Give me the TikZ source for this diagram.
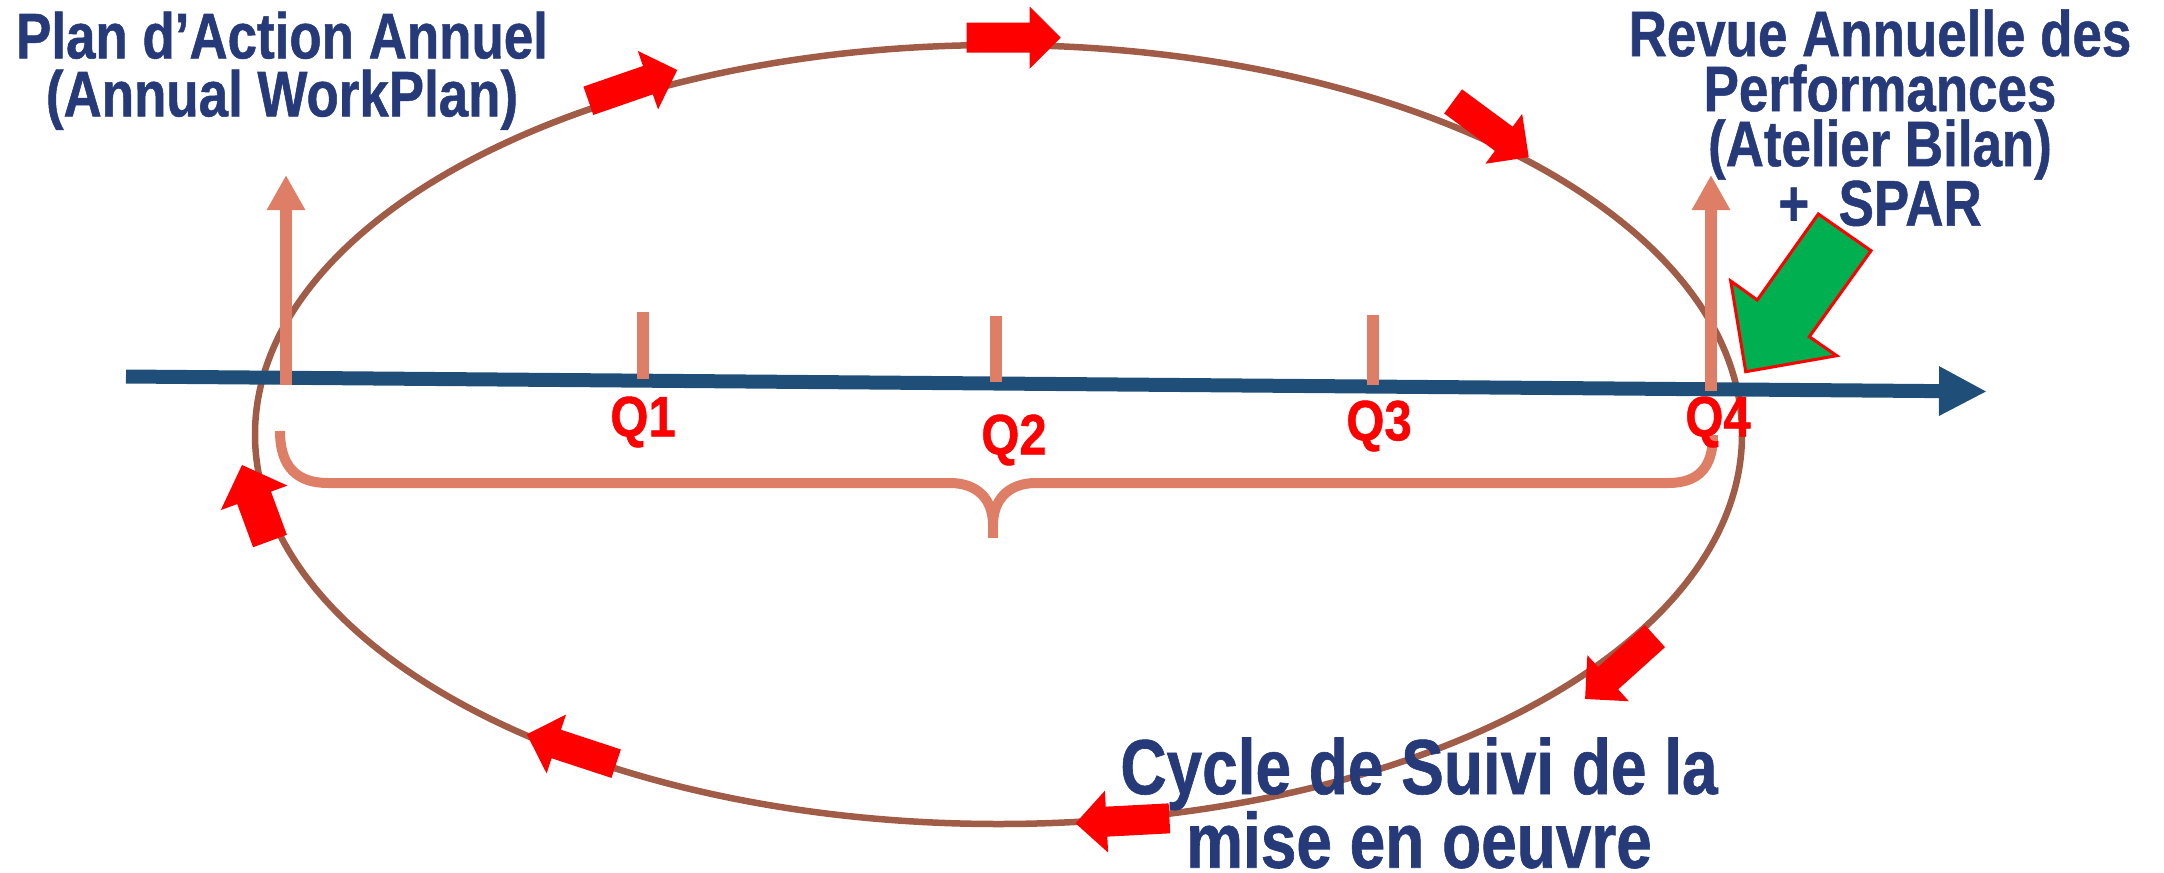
\documentclass[tikz,border=0pt]{standalone}
\usepackage{fontspec}
\setmainfont{Liberation Sans}
\newfontfamily\lblfont{Liberation Sans}[FakeStretch=0.82,FakeBold=0.8]
\newfontfamily\qfont{Liberation Sans}[FakeStretch=0.86,FakeBold=0.8]
\usetikzlibrary{arrows.meta}
\definecolor{txtblue}{RGB}{38,58,122}
\definecolor{ellcol}{RGB}{161,92,72}
\definecolor{salmon}{RGB}{222,126,102}
\definecolor{axiscol}{RGB}{31,78,121}
\definecolor{arrred}{RGB}{255,0,0}
\definecolor{arrgreen}{RGB}{0,176,80}
\newcommand{\redblock}[7]{%
  \begin{scope}[shift={(#1,#2)},rotate=#3]
    \fill[redarr] ({-#4/2},{-#5/2}) -- ({#4/2-#7},{-#5/2}) -- ({#4/2-#7},{-#6/2}) -- ({#4/2},0)
      -- ({#4/2-#7},{#6/2}) -- ({#4/2-#7},{#5/2}) -- ({-#4/2},{#5/2}) -- cycle;
  \end{scope}}
\begin{document}
\begin{tikzpicture}[x=1pt,y=-1pt,
  ellipsestyle/.style={draw=ellcol, line width=6.5pt},
  axisline/.style={draw=axiscol, line width=14pt, -{Triangle[width=46pt,length=48pt]}},
  uparrow/.style={draw=salmon, line width=12pt, -{Triangle[width=36pt,length=35pt]}},
  tickline/.style={draw=salmon, line width=12pt},
  bracestyle/.style={draw=salmon, line width=10pt, line join=round},
  redarr/.style={fill=arrred},
  greenarr/.style={fill=arrgreen, draw=arrred, line width=3pt, line join=miter},
  title/.style={text=txtblue, inner sep=0pt, align=center},
  qlabel/.style={text=arrred, inner sep=0pt, font=\qfont\bfseries\fontsize{57}{60}\selectfont}]
\useasboundingbox (0,0) rectangle (2164,873);

% cycle ellipse
\draw[ellipsestyle] (998.5,434.5) ellipse [x radius=743.5pt, y radius=389.5pt];

% time axis
\coordinate (axL) at (126,376.5);
\coordinate (axR) at (1987,391.5);
\draw[axisline] (axL) -- (axR);

% vertical arrows
\coordinate (v1b) at (286,385);
\coordinate (v1t) at (286,175);
\coordinate (v2b) at (1711,391);
\coordinate (v2t) at (1711,175);
\draw[uparrow] (v1b) -- (v1t);
\draw[uparrow] (v2b) -- (v2t);

% ticks
\coordinate (t1b) at (642.5,379); \coordinate (t1t) at (642.5,312);
\coordinate (t2b) at (996,382);   \coordinate (t2t) at (996,316);
\coordinate (t3b) at (1373,385);  \coordinate (t3t) at (1373,315);
\draw[tickline] (t1b) -- (t1t);
\draw[tickline] (t2b) -- (t2t);
\draw[tickline] (t3b) -- (t3t);

% brace
\coordinate (brL) at (280,431);
\coordinate (brM) at (993,525);
\coordinate (brTip) at (993,538);
\coordinate (brR) at (1713,435);
\draw[bracestyle] (brL) .. controls (280,468) and (298,483) .. (328,483) -- (950,483)
  .. controls (978,483) and (993,500) .. (brM)
  .. controls (993,500) and (1008,483) .. (1036,483) -- (1668,483)
  .. controls (1698,483) and (1713,468) .. (brR);
\draw[bracestyle, line cap=butt] (brM) -- (brTip);

% red cycle arrows
\redblock{632.8}{85.4}{19.1}{94}{30}{62}{31}
\redblock{1013.7}{37.7}{0}{94}{30}{62}{31}
\redblock{1490.9}{129.3}{-36.4}{94}{30}{62}{31}
\redblock{1620}{667.5}{-138}{94}{30}{62}{31}
\redblock{1122.5}{820.8}{183}{94}{30}{62}{31}
\redblock{571.5}{749}{161.8}{94}{30}{62}{31}
\redblock{256}{503}{110.2}{81}{36}{71}{35}

% green arrow
\draw[greenarr] (1818.3,214) -- (1871,250.7) -- (1809.3,336.7) -- (1836.7,355.7)
  -- (1745.7,371.7) -- (1730.7,281) -- (1757.3,300) -- cycle;

% texts
\node[title, font=\lblfont\bfseries\fontsize{64.5}{58}\selectfont] (plan) at (282,70.7)
  {Plan d’Action Annuel\\(Annual WorkPlan)};
\node[title, font=\lblfont\bfseries\fontsize{64.5}{55}\selectfont] (revue) at (1880,117.8)
  {Revue Annuelle des\\Performances\\(Atelier Bilan)\\+~~SPAR};
\node[title, font=\lblfont\bfseries\fontsize{78}{63.5}\selectfont] (cycle) at (1419,803)
  {Cycle de Suivi de la\\mise en oeuvre};

\node[qlabel] (q1) at (643,422) {Q1};
\node[qlabel] (q2) at (1014,440) {Q2};
\node[qlabel] (q3) at (1379,426) {Q3};
\node[qlabel] (q4) at (1718,422) {Q4};
\end{tikzpicture}
\end{document}
